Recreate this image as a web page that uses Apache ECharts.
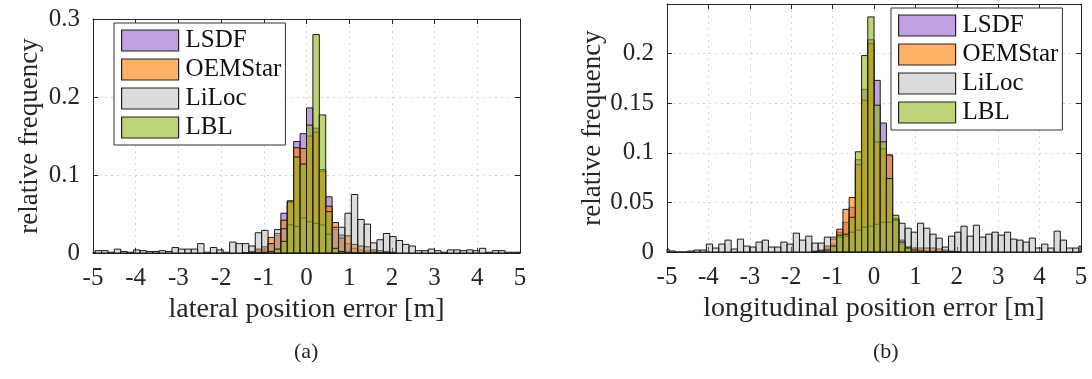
<!DOCTYPE html>
<html>
<head>
<meta charset="utf-8">
<script src="https://cdn.jsdelivr.net/npm/echarts@6/dist/echarts.min.js"></script>
<style>
  html, body { margin: 0; padding: 0; background: #fff; }
  #chart { width: 1092px; height: 379px; }
</style>
</head>
<body>
<div id="chart"></div>
<script>
// histogram bins: left edge = index * binWidth
const binWidth = 0.15
const tailStart = -34 // LiLoc arrays cover bins -34 .. 33
const centerStart = -10 // the other series cover bins -10 .. 13

const seriesNames = ['LSDF', 'OEMStar', 'LiLoc', 'LBL']

// (a) lateral position error
const lsdfA = [0, 0.001, 0.003, 0.005, 0.012, 0.022, 0.051, 0.066, 0.143, 0.153, 0.186, 0.160,
  0.107, 0.072, 0.030, 0.023, 0.012, 0.006, 0.004, 0.003, 0.002, 0.001, 0, 0]
const oemA = [0, 0.002, 0.005, 0.008, 0.020, 0.025, 0.042, 0.065, 0.135, 0.134, 0.150, 0.155,
  0.105, 0.060, 0.039, 0.019, 0.022, 0.011, 0.009, 0.008, 0.004, 0.003, 0.002, 0.001]
const lblA = [0, 0, 0, 0.001, 0.002, 0.005, 0.015, 0.067, 0.123, 0.114, 0.164, 0.280,
  0.177, 0.053, 0.006, 0.002, 0.001, 0, 0, 0, 0, 0, 0, 0]
const lilocA = [
  0.001, 0.003, 0.003, 0.001, 0.005, 0.002, 0.001, 0.004, 0.003, 0.002,
  0.002, 0.003, 0.002, 0.007, 0.005, 0.005, 0.005, 0.012, 0.001, 0.007,
  0.004, 0.001, 0.014, 0.012, 0.012, 0.009, 0.026, 0.029, 0.012, 0.030,
  0.031, 0.036, 0.034, 0.045, 0.040, 0.038, 0.036, 0.024, 0.033, 0.033,
  0.051, 0.075, 0.043, 0.037, 0.013, 0.017, 0.025, 0.021, 0.016, 0.011,
  0.009, 0.003, 0.003, 0.005, 0.003, 0.001, 0.004, 0.004, 0.003, 0.004,
  0.003, 0.006, 0.001, 0.003, 0.003, 0.001, 0.001, 0.001]

// (b) longitudinal position error
const lsdfB = [0, 0.001, 0.004, 0.008, 0.020, 0.030, 0.045, 0.093, 0.164, 0.214, 0.173, 0.130,
  0.097, 0.034, 0.012, 0.005, 0.002, 0.002, 0.001, 0.001, 0, 0, 0, 0]
const oemB = [0.001, 0.002, 0.006, 0.013, 0.023, 0.043, 0.055, 0.088, 0.153, 0.210, 0.111, 0.104,
  0.098, 0.033, 0.008, 0.005, 0.004, 0.004, 0.004, 0.004, 0.003, 0.002, 0.001, 0]
const lblB = [0, 0.001, 0.002, 0.006, 0.017, 0.018, 0.035, 0.101, 0.198, 0.237, 0.148, 0.111,
  0.074, 0.037, 0.010, 0.004, 0.002, 0.001, 0, 0, 0, 0, 0, 0]
const lilocB = [
  0.003, 0.001, 0, 0, 0.001, 0.002, 0.002, 0.008, 0.004, 0.008,
  0.012, 0.003, 0.013, 0.006, 0.005, 0.010, 0.012, 0.005, 0.005, 0.010,
  0.008, 0.019, 0.012, 0.016, 0.009, 0.009, 0.015, 0.015, 0.015, 0.016,
  0.020, 0.022, 0.025, 0.026, 0.028, 0.030, 0.030, 0.032, 0.029, 0.024,
  0.020, 0.029, 0.024, 0.018, 0.014, 0.005, 0.016, 0.020, 0.026, 0.016,
  0.027, 0.015, 0.018, 0.020, 0.017, 0.020, 0.013, 0.012, 0.010, 0.014,
  0.004, 0.008, 0.004, 0.021, 0.012, 0.004, 0.004, 0.006]

const xTicks = { min: -5, max: 5, interval: 1 }

const fills = {
  LSDF: 'rgba(139, 82, 198, 0.55)',
  OEMStar: 'rgba(255, 127, 0, 0.6)',
  LiLoc: 'rgba(170, 170, 170, 0.42)',
  LBL: 'rgba(149, 184, 26, 0.6)'
}

const font = 'Liberation Serif'
const ink = '#262626'

function toBins(values, start) {
  return values.map((v, k) => [(start + k) * binWidth, v])
}

// one rect per bin, computed through the axis scales
function renderBin(params, api) {
  const left = api.value(0)
  const p0 = api.coord([left, 0])
  const p1 = api.coord([left + binWidth, api.value(1)])
  const cs = params.coordSys
  const rect = echarts.graphic.clipRectByRect(
    { x: p0[0], y: p1[1], width: p1[0] - p0[0], height: p0[1] - p1[1] },
    { x: cs.x, y: cs.y, width: cs.width, height: cs.height }
  )
  if (!rect) return
  return {
    type: 'rect',
    shape: rect,
    style: { fill: api.visual('color'), stroke: '#1a1a1a', lineWidth: 1 }
  }
}

function histSeries(name, values, start, panel) {
  return {
    type: 'custom',
    name: name,
    xAxisIndex: panel * 2,
    yAxisIndex: panel * 2,
    renderItem: renderBin,
    itemStyle: { color: fills[name] },
    encode: { x: 0, y: 1 },
    data: toBins(values, start),
    silent: true
  }
}

function bottomAxis(grid, name) {
  return {
    type: 'value', gridIndex: grid, position: 'bottom', ...xTicks,
    name: name, nameLocation: 'middle', nameGap: 31,
    nameTextStyle: { fontFamily: font, fontSize: 28, color: ink },
    axisLine: { onZero: false, lineStyle: { color: ink, width: 1 } },
    axisTick: { inside: true, length: 5, lineStyle: { color: ink } },
    axisLabel: { fontFamily: font, fontSize: 25, color: ink, margin: 13 },
    splitLine: { show: true, lineStyle: { color: '#d4d4d4', type: [2, 4] } }
  }
}

function topAxis(grid) {
  return {
    type: 'value', gridIndex: grid, position: 'top', ...xTicks,
    axisLine: { onZero: false, lineStyle: { color: ink, width: 1 } },
    axisTick: { inside: true, length: 5, lineStyle: { color: ink } },
    axisLabel: { show: false },
    splitLine: { show: false }
  }
}

function leftAxis(grid, max, interval, nameGap) {
  return {
    type: 'value', gridIndex: grid, position: 'left', min: 0, max: max, interval: interval,
    name: 'relative frequency', nameLocation: 'middle', nameRotate: 90, nameGap: nameGap,
    nameTextStyle: { fontFamily: font, fontSize: 27, color: ink },
    axisLine: { show: true, onZero: false, lineStyle: { color: ink, width: 1 } },
    axisTick: { show: true, inside: true, length: 5, lineStyle: { color: ink } },
    axisLabel: { fontFamily: font, fontSize: 25, color: ink, margin: 13, showMaxLabel: grid === 0 },
    splitLine: { show: true, lineStyle: { color: '#d4d4d4', type: [2, 4] } }
  }
}

function rightAxis(grid, max, interval) {
  return {
    type: 'value', gridIndex: grid, position: 'right', min: 0, max: max, interval: interval,
    axisLine: { show: true, onZero: false, lineStyle: { color: ink, width: 1 } },
    axisTick: { show: true, inside: true, length: 5, lineStyle: { color: ink } },
    axisLabel: { show: false },
    splitLine: { show: false }
  }
}

function legendAt(left, top) {
  return {
    data: seriesNames,
    orient: 'vertical',
    left: left,
    top: top,
    icon: 'rect',
    itemWidth: 57,
    itemHeight: 21,
    itemGap: 4,
    padding: [5, 4, 5, 7],
    backgroundColor: '#fff',
    borderColor: '#333',
    borderWidth: 1,
    selectedMode: false,
    itemStyle: { borderColor: '#222', borderWidth: 1.2 },
    textStyle: { fontFamily: font, fontSize: 25, lineHeight: 25, color: '#111', padding: [0, 0, 0, 2] }
  }
}

const chart = echarts.init(document.getElementById('chart'), null, { renderer: 'canvas' })

chart.setOption({
  backgroundColor: '#fff',
  animation: false,
  grid: [
    { left: 93, top: 19, width: 427, height: 234 },
    { left: 667, top: 4, width: 414, height: 248 }
  ],
  xAxis: [
    bottomAxis(0, 'lateral position error [m]'),
    topAxis(0),
    bottomAxis(1, 'longitudinal position error [m]'),
    topAxis(1)
  ],
  yAxis: [
    leftAxis(0, 0.3, 0.1, 50),
    rightAxis(0, 0.3, 0.1),
    leftAxis(1, 0.25, 0.05, 44),
    rightAxis(1, 0.25, 0.05)
  ],
  legend: [legendAt(114, 23), legendAt(891, 8)],
  graphic: [
    { type: 'text', left: 294, top: 341, style: { text: '(a)', fontFamily: font, fontSize: 22, fill: ink } },
    { type: 'text', left: 873, top: 341, style: { text: '(b)', fontFamily: font, fontSize: 22, fill: ink } }
  ],
  series: [
    histSeries('LSDF', lsdfA, centerStart, 0),
    histSeries('OEMStar', oemA, centerStart, 0),
    histSeries('LiLoc', lilocA, tailStart, 0),
    histSeries('LBL', lblA, centerStart, 0),
    histSeries('LSDF', lsdfB, centerStart, 1),
    histSeries('OEMStar', oemB, centerStart, 1),
    histSeries('LiLoc', lilocB, tailStart, 1),
    histSeries('LBL', lblB, centerStart, 1)
  ]
})
</script>
</body>
</html>
